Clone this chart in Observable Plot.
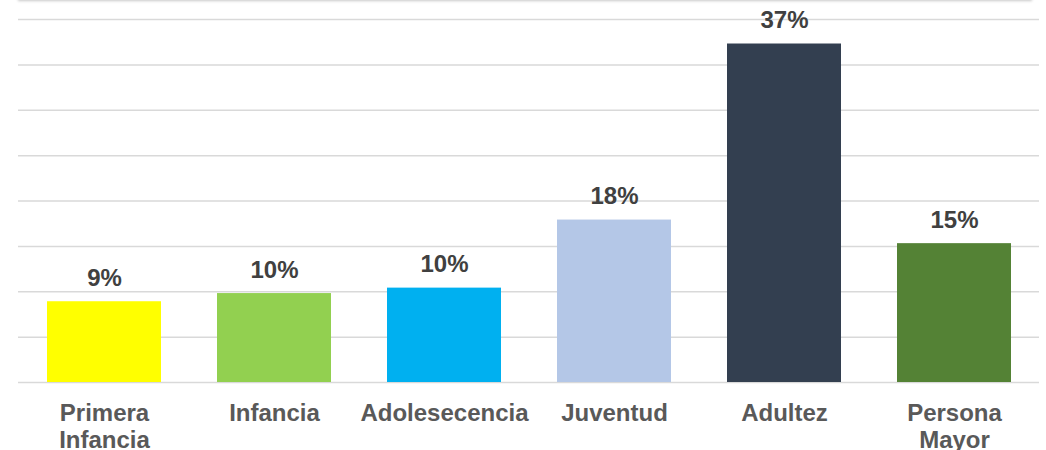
<!DOCTYPE html>
<html>
<head>
<meta charset="utf-8">
<script src="https://cdn.jsdelivr.net/npm/d3@7"></script>
<script src="https://cdn.jsdelivr.net/npm/@observablehq/plot@0.6"></script>
<style>
  html, body { margin: 0; padding: 0; background: #fff; }
  #wrap { position: relative; width: 1046px; height: 450px; overflow: hidden; }
  #shadow { position: absolute; left: 18px; right: 14px; top: -8px; height: 8px;
            box-shadow: 0 1px 3px rgba(0,0,0,0.22); background: #fff; }
  svg { font-family: "Liberation Sans", Arial, sans-serif; }
</style>
</head>
<body>
<div id="wrap"><div id="shadow"></div></div>
<script>
const categories = ["Primera Infancia", "Infancia", "Adolesecencia", "Juventud", "Adultez", "Persona Mayor"];
const tickLabels = ["Primera\nInfancia", "Infancia", "Adolesecencia", "Juventud", "Adultez", "Persona\nMayor"];
const values = [8.9, 9.8, 10.4, 17.9, 37.3, 15.3];
const valueLabels = ["9%", "10%", "10%", "18%", "37%", "15%"];
const colors = ["#FFFF00", "#92D050", "#00B0F0", "#B4C7E7", "#333F50", "#548235"];
const gridTicks = [0, 5, 10, 15, 20, 25, 30, 35, 40];

const data = categories.map((c, i) => ({ cat: c, value: values[i], label: valueLabels[i], color: colors[i] }));
const labelOf = new Map(categories.map((c, i) => [c, tickLabels[i]]));

const chart = Plot.plot({
  width: 1046,
  height: 450,
  marginLeft: 18,
  marginRight: 7,
  marginTop: 19,
  marginBottom: 68,
  style: { fontFamily: '"Liberation Sans", Arial, sans-serif', background: "#fff" },
  x: { domain: categories, paddingInner: 0.33, paddingOuter: 0.165, axis: null },
  y: { domain: [0, 40], axis: null },
  marks: [
    Plot.ruleY(gridTicks, { stroke: "#d9d9d9", strokeWidth: 1.5 }),
    Plot.barY(data, { x: "cat", y: "value", fill: "color" }),
    Plot.text(data, {
      x: "cat", y: "value", text: "label",
      lineAnchor: "bottom", dy: -16,
      fontSize: 24, fontWeight: "bold", fill: "#404040"
    }),
    Plot.axisX({
      tickSize: 0, tickPadding: 19,
      tickFormat: d => labelOf.get(d),
      fontSize: 24, fontWeight: "bold", fill: "#595959",
      lineHeight: 1.13, label: null
    })
  ]
});
document.getElementById("wrap").appendChild(chart);
</script>
</body>
</html>
